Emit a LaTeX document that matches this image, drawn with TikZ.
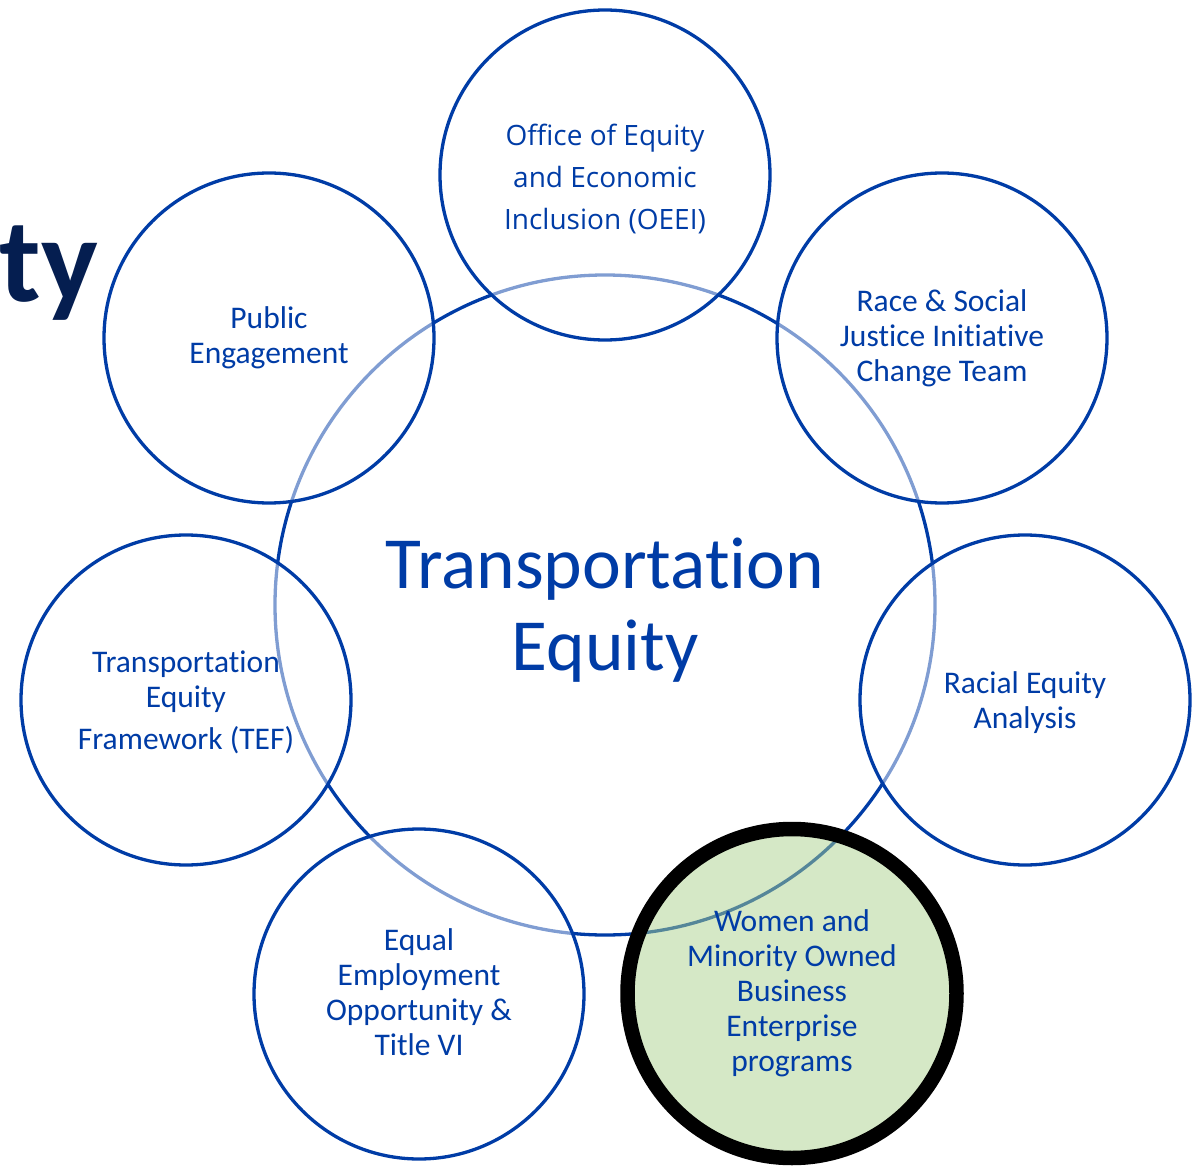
\documentclass[tikz,border=0pt]{standalone}
\usepackage{fontspec}
\setmainfont{Carlito}[Ligatures=NoCommon]
\newfontfamily\oeeifont{Open Sans}
\definecolor{eqblue}{RGB}{0,60,166}
\definecolor{navytitle}{RGB}{5,30,80}
\definecolor{mwbegreen}{RGB}{171,209,141}
\tikzset{
  sat/.style={circle, draw=eqblue, line width=3.3pt, fill=white, fill opacity=0.5,
    text opacity=1, draw opacity=1, minimum size=330pt, inner sep=0pt, text=eqblue,
    align=center, font=\fontsize{31.5}{35}\selectfont},
  hub/.style={circle, draw=eqblue, line width=3.3pt, minimum size=660pt, inner sep=0pt},
  bigtext/.style={text=eqblue, align=center, font=\fontsize{73.5}{82}\selectfont, inner sep=0pt},
}
\begin{document}
\begin{tikzpicture}[x=1pt,y=-1pt]
\useasboundingbox (0,0) rectangle (1192,1166);
% title fragment
\node[anchor=base east, text=navytitle, inner sep=0pt, font=\fontsize{120}{120}\selectfont\bfseries] (titlefrag) at (98,302) {ty};
% hub circle
\node[hub] (hubc) at (605,605) {};
\node[bigtext] (hubt) at (605,610) {Transportation\\Equity};
% satellites
\node[sat] (oeeic) at (605,175) {};
\node[text=eqblue, align=center, inner sep=0pt, font=\oeeifont\fontsize{28}{42}\selectfont] (oeei) at (605,179) {Office of Equity\\and Economic\\Inclusion (OEEI)};
\node[sat] (pub) at (269,338) {Public\\Engagement};
\node[sat] (rsji) at (942,338) {Race \& Social\\Justice Initiative\\Change Team};
\node[sat] (tefc) at (186,700) {};
\node[text=eqblue, align=center, inner sep=0pt, font=\fontsize{31.5}{35}\selectfont] (tef) at (186,702) {Transportation\\Equity\\[7pt]Framework (TEF)};
\node[sat] (reac) at (1025,700) {};
\node[text=eqblue, align=center, inner sep=0pt, font=\fontsize{31.5}{35}\selectfont] (rea) at (1025,703) {Racial Equity\\Analysis};
\node[sat] (eeoc) at (419,994) {};
\node[text=eqblue, align=center, inner sep=0pt, font=\fontsize{31.5}{35}\selectfont] (eeo) at (419,992) {Equal\\Employment\\Opportunity \&\\Title VI};
\node[sat, draw=black, line width=14.5pt, fill=mwbegreen, minimum size=329pt] (mwbe) at (792,993.5) {Women and\\Minority Owned\\Business\\Enterprise\\programs};
\end{tikzpicture}
\end{document}
